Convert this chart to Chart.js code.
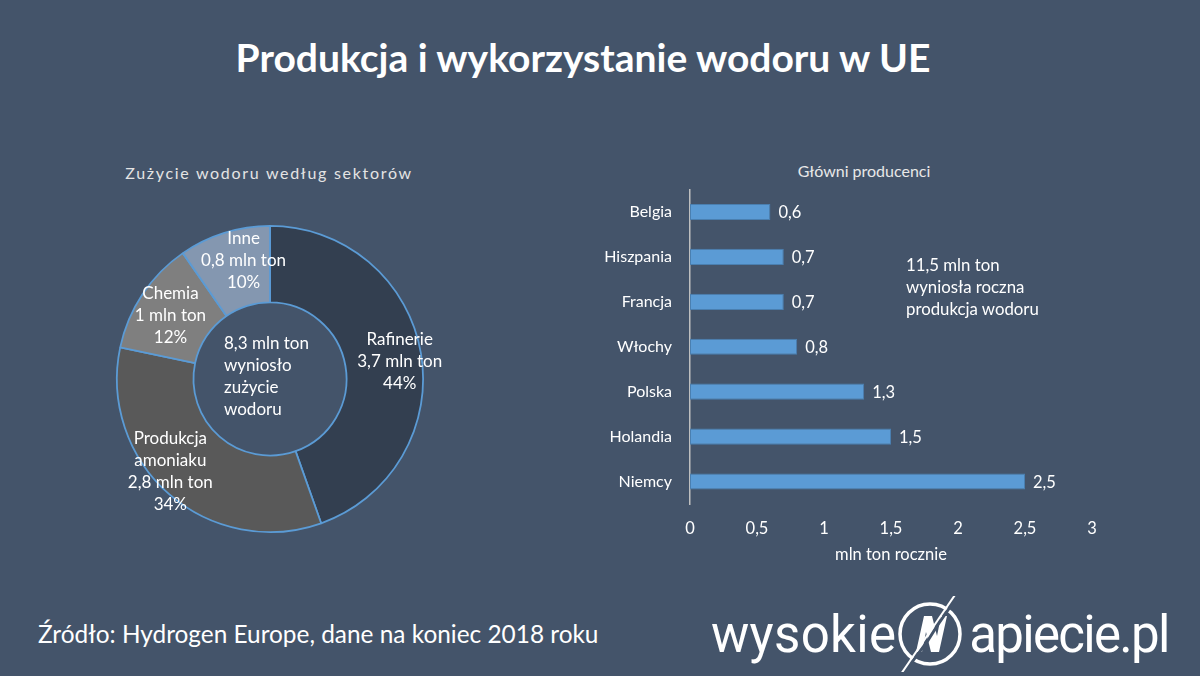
<!DOCTYPE html>
<html lang="pl">
<head>
<meta charset="utf-8">
<title>Produkcja i wykorzystanie wodoru w UE</title>
<script src="https://cdn.jsdelivr.net/npm/chart.js@4.4.1/dist/chart.umd.min.js"></script>
<style>
    html, body {
        margin: 0;
        padding: 0;
        background: #44546a;
    }
    #page {
        position: relative;
        width: 1200px;
        height: 676px;
        background: #44546a;
        overflow: hidden;
        font-family: Lato, "Open Sans", sans-serif;
        color: #ffffff;
    }
    .main-title {
        position: absolute;
        left: 0;
        width: 1166px;
        top: 34px;
        text-align: center;
        font-size: 39px;
        font-weight: 700;
    }
    .sub-title {
        position: absolute;
        left: 69px;
        width: 400px;
        top: 163px;
        text-align: center;
        font-size: 16px;
        letter-spacing: 1.7px;
        color: #e4e4e4;
    }
    .bar-title {
        position: absolute;
        left: 714px;
        width: 300px;
        top: 161px;
        text-align: center;
        font-size: 16px;
        color: #e8e8e8;
    }
    .note {
        position: absolute;
        left: 906px;
        top: 254px;
        font-size: 16.8px;
        line-height: 22px;
    }
    .source {
        position: absolute;
        left: 38px;
        top: 619px;
        font-size: 24.4px;
    }
    .logo {
        position: absolute;
        left: 711px;
        top: 596px;
        height: 76px;
        display: flex;
        align-items: center;
        font-family: Roboto, sans-serif;
        font-size: 51px;
    }
    .logo .w1 {
        letter-spacing: 0.3px;
    }
    .logo .w2 {
        letter-spacing: -1.7px;
    }
    .logo svg {
        margin: 0 6px 0 1px;
    }
    #donut-wrap {
        position: absolute;
        left: 80px;
        top: 199px;
        width: 380px;
        height: 360px;
    }
    #bar-wrap {
        position: absolute;
        left: 590px;
        top: 150px;
        width: 550px;
        height: 418px;
    }
</style>
</head>
<body>
<div id="page">
    <div class="main-title">Produkcja i wykorzystanie wodoru w UE</div>
    <div class="sub-title">Zużycie wodoru według sektorów</div>
    <div class="bar-title">Główni producenci</div>
    <div id="donut-wrap"><canvas id="donut-chart"></canvas></div>
    <div id="bar-wrap"><canvas id="bar-chart"></canvas></div>
    <div class="note">11,5 mln ton<br>wyniosła roczna<br>produkcja wodoru</div>
    <div class="source">Źródło: Hydrogen Europe, dane na koniec 2018 roku</div>
    <div class="logo">
        <span class="w1">wysokie</span>
        <svg width="66" height="76" viewBox="0 0 66 76">
            <circle cx="33" cy="38" r="30" fill="none" stroke="#fff" stroke-width="3.5"/>
            <path d="M19 56 L27 20 L35 20 L40 40 L44 20 L50 20 L42 56 L34 56 L29 36 L25 56 Z" fill="#fff"/>
            <path d="M62 -2 L40 30 L30 46 L6 78" fill="none" stroke="#44546a" stroke-width="3"/>
            <path d="M60 -4 L4 78" fill="none" stroke="#fff" stroke-width="2"/>
        </svg>
        <span class="w2">apiecie.pl</span>
    </div>
</div>

<script>
// zużycie wodoru według sektorów (mln ton)
const sectorLabels = ['Rafinerie', 'Produkcja amoniaku', 'Chemia', 'Inne'];
const sectorValues = [3.7, 2.8, 1.0, 0.8];
const sectorTextLines = [
    ['Rafinerie', '3,7 mln ton', '44%'],
    ['Produkcja', 'amoniaku', '2,8 mln ton', '34%'],
    ['Chemia', '1 mln ton', '12%'],
    ['Inne', '0,8 mln ton', '10%']
];
const centerLines = ['8,3 mln ton', 'wyniosło', 'zużycie', 'wodoru'];

// główni producenci (mln ton rocznie)
const countries = ['Belgia', 'Hiszpania', 'Francja', 'Włochy', 'Polska', 'Holandia', 'Niemcy'];
const production = [0.6, 0.7, 0.7, 0.8, 1.3, 1.5, 2.5];
const productionText = ['0,6', '0,7', '0,7', '0,8', '1,3', '1,5', '2,5'];
const xTicks = [0, 0.5, 1, 1.5, 2, 2.5, 3];
const xTickText = ['0', '0,5', '1', '1,5', '2', '2,5', '3'];

const FONT = 'Lato, "Open Sans", sans-serif';

// przesunięcia podpisów (jak w Excelu, etykiety nie leżą dokładnie w środku)
const labelNudge = [[6, 4], [-17, -2], [5, 6], [11, 1]];

// podpisy wewnątrz pierścienia + tekst w środku
const donutLabels = {
    id: 'donutLabels',
    afterDatasetsDraw(chart) {
        const ctx = chart.ctx;
        const arcs = chart.getDatasetMeta(0).data;
        ctx.save();
        ctx.fillStyle = '#ffffff';
        ctx.font = '17px ' + FONT;
        ctx.textAlign = 'center';
        ctx.textBaseline = 'middle';
        const lineH = 22;
        arcs.forEach((arc, i) => {
            const mid = (arc.startAngle + arc.endAngle) / 2;
            const r = arc.innerRadius + (arc.outerRadius - arc.innerRadius) * 0.64;
            const cx = arc.x + Math.cos(mid) * r + labelNudge[i][0];
            const cy = arc.y + Math.sin(mid) * r + labelNudge[i][1];
            const lines = sectorTextLines[i];
            const top = cy - (lines.length - 1) * lineH / 2;
            lines.forEach((line, j) => ctx.fillText(line, cx, top + j * lineH));
        });
        // środek
        const c = arcs[0];
        ctx.textAlign = 'left';
        const cH = 21.7;
        const top = c.y - (centerLines.length - 1) * cH / 2 - 2.5;
        centerLines.forEach((line, j) => ctx.fillText(line, c.x - 46, top + j * cH));
        ctx.restore();
    }
};

new Chart(document.getElementById('donut-chart'), {
    type: 'doughnut',
    data: {
        labels: sectorLabels,
        datasets: [{
            data: sectorValues,
            backgroundColor: ['#333f50', '#595959', '#7f7f7f', '#8497b0'],
            borderColor: '#5b9bd5',
            borderWidth: 1.8
        }]
    },
    options: {
        responsive: true,
        maintainAspectRatio: false,
        animation: false,
        cutout: '50%',
        layout: { padding: { left: 36, right: 36, top: 26, bottom: 26 } },
        plugins: {
            legend: { display: false },
            tooltip: { enabled: false }
        }
    },
    plugins: [donutLabels]
});

// wartości przy słupkach
const barValues = {
    id: 'barValues',
    afterDatasetsDraw(chart) {
        const ctx = chart.ctx;
        const bars = chart.getDatasetMeta(0).data;
        ctx.save();
        ctx.fillStyle = '#ffffff';
        ctx.font = '16.5px ' + FONT;
        ctx.textAlign = 'left';
        ctx.textBaseline = 'middle';
        bars.forEach((bar, i) => {
            ctx.fillText(productionText[i], bar.x + 8, bar.y + 1);
        });
        ctx.restore();
    }
};

new Chart(document.getElementById('bar-chart'), {
    type: 'bar',
    data: {
        labels: countries,
        datasets: [{
            data: production,
            backgroundColor: '#5b9bd5',
            borderColor: '#4a7fb0',
            borderWidth: 1,
            borderSkipped: false,
            barPercentage: 0.36,
            categoryPercentage: 1
        }]
    },
    options: {
        indexAxis: 'y',
        responsive: true,
        maintainAspectRatio: false,
        animation: false,
        layout: { padding: { left: 0, right: 48, top: 39.5, bottom: 0 } },
        scales: {
            x: {
                min: 0,
                max: 3,
                afterBuildTicks: (scale) => {
                    scale.ticks = xTicks.map(v => ({ value: v }));
                },
                afterFit: (scale) => { scale.height = 64; },
                grid: { display: false, drawTicks: false },
                border: { display: false },
                ticks: {
                    color: '#ffffff',
                    padding: 15,
                    font: { family: FONT, size: 16.5 },
                    maxRotation: 0,
                    callback: (value, index) => xTickText[index]
                },
                title: {
                    display: true,
                    text: 'mln ton rocznie',
                    color: '#ffffff',
                    font: { family: FONT, size: 16.5 },
                    padding: { top: 0, bottom: 3 }
                }
            },
            y: {
                afterFit: (scale) => { scale.width = 100; },
                grid: { display: false, drawTicks: false },
                border: { display: true, color: '#bfbfbf', width: 1.5 },
                ticks: {
                    color: '#ffffff',
                    padding: 18,
                    font: { family: FONT, size: 16 }
                }
            }
        },
        plugins: {
            legend: { display: false },
            tooltip: { enabled: false },
            title: { display: false }
        }
    },
    plugins: [barValues]
});
</script>
</body>
</html>
